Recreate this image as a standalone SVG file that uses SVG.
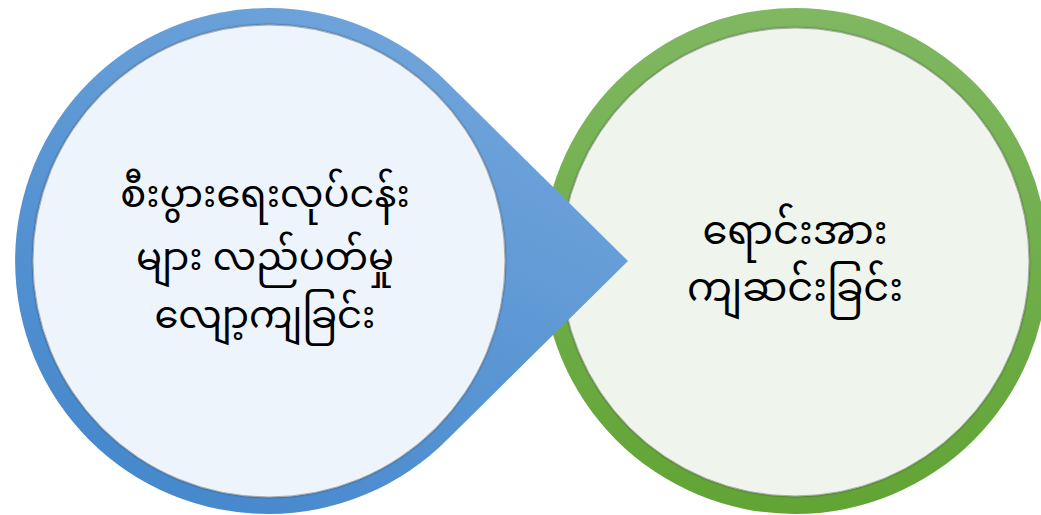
<svg xmlns="http://www.w3.org/2000/svg" width="1041" height="515" viewBox="0 0 1041 515">
<style>
.t{font-family:"Noto Sans Myanmar","Noto Sans","Padauk","Myanmar Text",sans-serif;fill:#000;text-anchor:middle}
.l{font-size:38.5px}
.r{font-size:40px}
</style>
<defs>
<linearGradient id="gb" x1="0.8" y1="0" x2="0.2" y2="1">
<stop offset="0" stop-color="#74a7dc"/>
<stop offset="1" stop-color="#4487cc"/>
</linearGradient>
<linearGradient id="gg" x1="0" y1="0" x2="0" y2="1">
<stop offset="0" stop-color="#80b862"/>
<stop offset="1" stop-color="#61a434"/>
</linearGradient>
<filter id="sh" x="-5%" y="-5%" width="110%" height="110%">
<feGaussianBlur in="SourceAlpha" stdDeviation="1"/>
<feComponentTransfer><feFuncA type="linear" slope="0.5"/></feComponentTransfer>
<feMerge><feMergeNode/><feMergeNode in="SourceGraphic"/></feMerge>
</filter>
</defs>
<g id="node-right">
<circle cx="795" cy="261" r="253" fill="url(#gg)"/>
<circle cx="795" cy="262" r="234" fill="#eff5ec" stroke="#a9a9a9" stroke-width="1" filter="url(#sh)"/>
<text class="t r" x="795" y="244">ရောင်းအား</text>
<text class="t r" x="795" y="301">ကျဆင်းခြင်း</text>
</g>
<g id="node-left">
<path d="M628,261 L447.9,83.0 A253,253 0 1 0 447.9,439.0 Z" fill="url(#gb)"/>
<circle cx="269" cy="261" r="236" fill="#eef4fb" stroke="#a9a9a9" stroke-width="1" filter="url(#sh)"/>
<text class="t l" x="265" y="207">စီးပွားရေးလုပ်ငန်း</text>
<text class="t l" x="265" y="270">များ လည်ပတ်မှု</text>
<text class="t l" x="265" y="328">လျော့ကျခြင်း</text>
</g>
<g id="connectors"></g>
</svg>
